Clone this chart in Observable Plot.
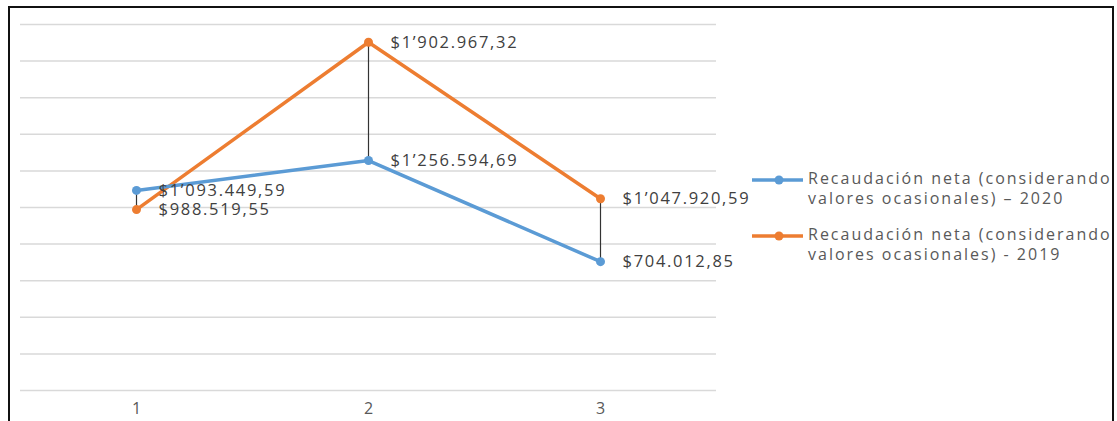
<!DOCTYPE html>
<html>
<head>
<meta charset="utf-8">
<script src="https://cdn.jsdelivr.net/npm/d3@7"></script>
<script src="https://cdn.jsdelivr.net/npm/@observablehq/plot@0.6"></script>
<style>
  html, body { margin: 0; padding: 0; background: #fff; }
  #wrap { position: relative; width: 1117px; height: 421px; overflow: hidden; font-family: "Open Sans", sans-serif; }
  #frame { position: absolute; left: 8px; top: 6px; width: 1106px; height: 430px; border-top: 2px solid #111; border-left: 2px solid #111; border-right: 2px solid #111; box-sizing: border-box; pointer-events: none; }
  #chart { position: absolute; left: 0; top: 0; }
  #legend { position: absolute; left: 752px; top: 168px; color: #595959; font-size: 16px; letter-spacing: 2px; }
  .item { position: relative; height: 56px; }
  .item svg { position: absolute; left: 0; top: 4px; }
  .item div { position: absolute; left: 56px; top: 0; line-height: 20px; white-space: nowrap; }
</style>
</head>
<body>
<div id="wrap">
  <div id="chart"></div>
  <div id="frame"></div>
  <div id="legend"></div>
</div>
<script>
const categories = [1, 2, 3];
const values2020 = [1093449.59, 1256594.69, 704012.85];
const values2019 = [988519.55, 1902967.32, 1047920.59];
const labels2020 = ["$1’093.449,59", "$1’256.594,69", "$704.012,85"];
const labels2019 = ["$988.519,55", "$1’902.967,32", "$1’047.920,59"];
const yTicks = [0, 200000, 400000, 600000, 800000, 1000000, 1200000, 1400000, 1600000, 1800000, 2000000];
const seriesNames = ["Recaudación neta (considerando\nvalores ocasionales) – 2020", "Recaudación neta (considerando\nvalores ocasionales) - 2019"];
const colors = ["#5B9BD5", "#ED7D31"];

const s2020 = categories.map((c, i) => ({x: c, y: values2020[i], label: labels2020[i]}));
const s2019 = categories.map((c, i) => ({x: c, y: values2019[i], label: labels2019[i]}));
const hilo = categories.map((c, i) => ({x: c, lo: Math.min(values2020[i], values2019[i]), hi: Math.max(values2020[i], values2019[i])}));

const chart = Plot.plot({
  width: 1117,
  height: 421,
  marginLeft: 20,
  marginRight: 401,
  marginTop: 24,
  marginBottom: 31,
  style: {fontFamily: "'Open Sans', sans-serif", background: "transparent", color: "#595959"},
  x: {type: "point", domain: categories, padding: 0.5, axis: null},
  y: {domain: [0, 2000000], axis: null},
  marks: [
    Plot.ruleY(yTicks, {stroke: "#d9d9d9", strokeWidth: 1.5}),
    Plot.axisX({tickSize: 0, tickPadding: 12, fontSize: 16, fill: "#595959", label: null}),
    Plot.ruleX(hilo, {x: "x", y1: "lo", y2: "hi", stroke: "#333", strokeWidth: 1.2}),
    Plot.line(s2019, {x: "x", y: "y", stroke: colors[1], strokeWidth: 3.5}),
    Plot.line(s2020, {x: "x", y: "y", stroke: colors[0], strokeWidth: 3.5}),
    Plot.dot(s2019, {x: "x", y: "y", fill: colors[1], r: 4.5}),
    Plot.dot(s2020, {x: "x", y: "y", fill: colors[0], r: 4.5}),
    Plot.text(s2020, {x: "x", y: "y", text: "label", dx: 22, textAnchor: "start", fontSize: 16.5, fill: "#404040"}),
    Plot.text(s2019, {x: "x", y: "y", text: "label", dx: 22, textAnchor: "start", fontSize: 16.5, fill: "#404040"})
  ]
});
d3.select(chart).selectAll('g[aria-label="text"] text').style("letter-spacing", "1.7px");
d3.select(chart).selectAll('g[aria-label="x-axis tick label"] text').attr("fill", "#595959");
document.getElementById("chart").appendChild(chart);

const legend = document.getElementById("legend");
seriesNames.forEach((name, i) => {
  const item = document.createElement("div");
  item.className = "item";
  item.innerHTML = `<svg width="52" height="16"><line x1="0" y1="8" x2="51" y2="8" stroke="${colors[i]}" stroke-width="3.5"/><circle cx="27" cy="8" r="4.5" fill="${colors[i]}"/></svg>`;
  const t = document.createElement("div");
  t.innerHTML = name.split("\n").join("<br>");
  item.appendChild(t);
  legend.appendChild(item);
});
</script>
</body>
</html>
